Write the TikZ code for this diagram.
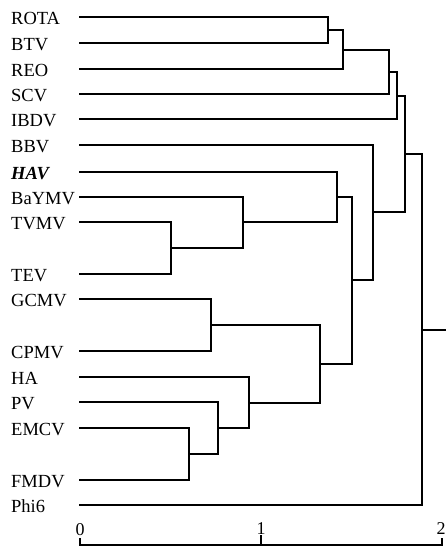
\documentclass[tikz,border=0pt]{standalone}
\usepackage{fontspec}
\setmainfont{Liberation Serif}
\begin{document}
\begin{tikzpicture}[x=1pt,y=-1pt,
  br/.style={line width=1.7pt,line cap=rect},
  lab/.style={anchor=west,inner sep=0pt,font=\fontsize{18.5}{22}\selectfont},
  axl/.style={inner sep=0pt,font=\fontsize{18}{22}\selectfont}]
\useasboundingbox (0,0) rectangle (446,548);
% leaves: labels and line starts
\foreach \n/\t/\y in {ROTA/ROTA/17, BTV/BTV/43, REO/REO/69, SCV/SCV/94, IBDV/IBDV/119,
  BBV/BBV/145, BaYMV/BaYMV/197, TVMV/TVMV/222, TEV/TEV/274,
  GCMV/GCMV/299, CPMV/CPMV/351, HA/HA/377, PV/PV/402, EMCV/EMCV/428, FMDV/FMDV/480, Phi/Phi6/505}{
  \node[lab] (t\n) at (11,\y+1.5) {\t};
  \coordinate (\n) at (80,\y);
}
\node[lab] (tHAV) at (11,173.5) {\textbf{\textit{HAV}}};
\coordinate (HAV) at (80,172);
% internal nodes
\coordinate (n1) at (328,30);
\coordinate (n2) at (343,50);
\coordinate (n3) at (389,72);
\coordinate (n4) at (397,96);
\coordinate (n5) at (171,248);
\coordinate (n6) at (243,222);
\coordinate (n7) at (337,197);
\coordinate (n8) at (211,325);
\coordinate (n9) at (189,454);
\coordinate (n10) at (218,428);
\coordinate (n11) at (249,403);
\coordinate (n12) at (320,364);
\coordinate (n13) at (352,280);
\coordinate (n14) at (373,212);
\coordinate (n15) at (405,154);
\coordinate (root) at (422,330);
\coordinate (rootend) at (446,330);
% branches
\draw[br] (ROTA) -| (n1) |- (BTV);
\draw[br] (n1) -| (n2) |- (REO);
\draw[br] (n2) -| (n3) |- (SCV);
\draw[br] (n3) -| (n4) |- (IBDV);
\draw[br] (TVMV) -| (n5) |- (TEV);
\draw[br] (BaYMV) -| (n6) |- (n5);
\draw[br] (HAV) -| (n7) |- (n6);
\draw[br] (GCMV) -| (n8) |- (CPMV);
\draw[br] (EMCV) -| (n9) |- (FMDV);
\draw[br] (PV) -| (n10) |- (n9);
\draw[br] (HA) -| (n11) |- (n10);
\draw[br] (n8) -| (n12) |- (n11);
\draw[br] (n7) -| (n13) |- (n12);
\draw[br] (BBV) -| (n14) |- (n13);
\draw[br] (n4) -| (n15) |- (n14);
\draw[br] (n15) -| (root) |- (Phi);
\draw[br] (root) -- (rootend);
% axis
\coordinate (a0) at (80,545);
\coordinate (a1) at (261,545);
\coordinate (a2) at (442,545);
\draw[br] (a0) -- (a2);
\draw[br] (a0) -- ++(0,-6);
\draw[br] (a1) -- ++(0,-9);
\draw[br] (a2) -- ++(0,-6);
\node[axl] (l0) at (80,530) {0};
\node[axl] (l1) at (261,529) {1};
\node[axl] (l2) at (441,529) {2};
\end{tikzpicture}
\end{document}
